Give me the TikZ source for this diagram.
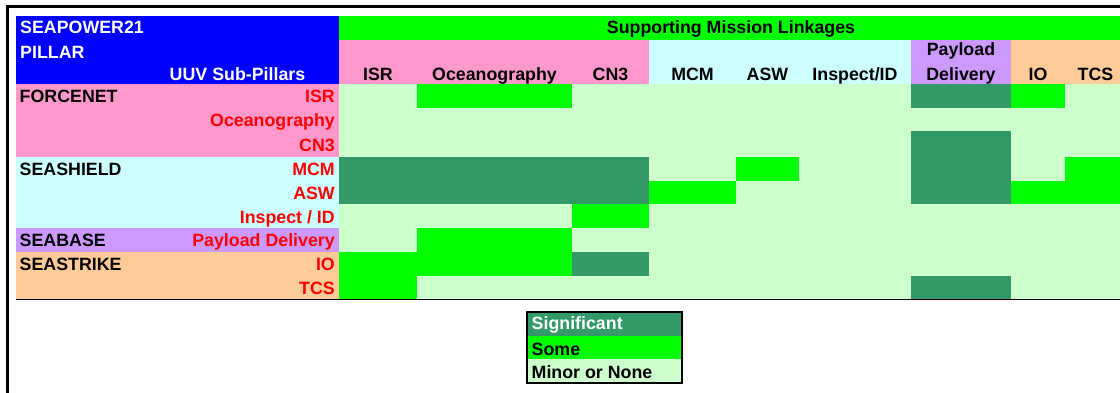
\documentclass[tikz,border=0pt]{standalone}
\usepackage{fontspec}
\setmainfont{Liberation Sans}
\definecolor{hblue}{HTML}{0000FF}
\definecolor{some}{HTML}{00FF00}
\definecolor{sig}{HTML}{339966}
\definecolor{minor}{HTML}{CCFFCC}
\definecolor{fpink}{HTML}{FF99CC}
\definecolor{fcyan}{HTML}{CCFFFF}
\definecolor{fpurple}{HTML}{CC99FF}
\definecolor{forange}{HTML}{FFCC99}
\definecolor{lred}{HTML}{FF0000}
\begin{document}
\begin{tikzpicture}[x=1pt,y=-1pt,
  txt/.style={inner sep=0pt, font=\fontsize{17.8}{20}\selectfont\bfseries},
  colhead/.style={txt, anchor=base, text=black},
  rowlab/.style={txt, anchor=base east, text=lred},
  pillarlab/.style={txt, anchor=base west, text=black},
  somecell/.style={fill=some},
  sigcell/.style={fill=sig},
]
\useasboundingbox (0,0) rectangle (1120,392);
\clip (0,0) rectangle (1120,392);
\fill[white] (0,0) rectangle (1120,392);
% outer frame
\draw[line width=3pt] (7.5,400) -- (7.5,6.5) -- (1130,6.5);
% header
\fill[hblue] (16,16) rectangle (339,84);
\fill[some] (339,16) rectangle (1130,39.5);
\fill[fpink] (339,39.5) rectangle (649,84);
\fill[fcyan] (649,39.5) rectangle (911,84);
\fill[fpurple] (911,39.5) rectangle (1011,84);
\fill[forange] (1011,39.5) rectangle (1130,84);
% left label column
\fill[fpink] (16,84) rectangle (339,156.5);
\fill[fcyan] (16,156.5) rectangle (339,228);
\fill[fpurple] (16,228) rectangle (339,251.5);
\fill[forange] (16,251.5) rectangle (339,299);
% grid background
\fill[minor] (339,84) rectangle (1130,299);
% row ISR
\fill[somecell] (417,84) rectangle (572,107.5);
\fill[sigcell] (911,84) rectangle (1011,107.5);
\fill[somecell] (1011,84) rectangle (1065,107.5);
% CN3..ASW payload
\fill[sigcell] (911,131) rectangle (1011,204);
% MCM & ASW rows
\fill[sigcell] (339,156.5) rectangle (649,204);
\fill[somecell] (736,156.5) rectangle (799,180.5);
\fill[somecell] (1065,156.5) rectangle (1130,180.5);
\fill[somecell] (649,180.5) rectangle (736,204);
\fill[somecell] (1011,180.5) rectangle (1130,204);
% Inspect
\fill[somecell] (572,204) rectangle (649,228);
% Payload
\fill[somecell] (417,228) rectangle (572,251.5);
% IO
\fill[somecell] (339,251.5) rectangle (572,275.5);
\fill[sigcell] (572,251.5) rectangle (649,275.5);
% TCS
\fill[somecell] (339,275.5) rectangle (417,299);
\fill[sigcell] (911,275.5) rectangle (1011,299);
% bottom rule
\draw[line width=1.3pt] (16,299.5) -- (1130,299.5);

% header texts
\node[txt, anchor=base, text=black] (sml) at (731,33.5) {Supporting Mission Linkages};
\node[txt, anchor=base west, text=white] (sp21) at (20,33.3) {SEAPOWER21};
\node[txt, anchor=base west, text=white] (pil) at (20,58) {PILLAR};
\node[txt, anchor=base, text=white] (uuv) at (237.5,80) {UUV Sub-Pillars};
\node[colhead] (hisr) at (378,80) {ISR};
\node[colhead] (hoce) at (494.5,80) {Oceanography};
\node[colhead] (hcn3) at (610.5,80) {CN3};
\node[colhead] (hmcm) at (692.5,80) {MCM};
\node[colhead] (hasw) at (767.5,80) {ASW};
\node[colhead] (hins) at (855,80) {Inspect/ID};
\node[colhead] (hpay1) at (961,55.7) {Payload};
\node[colhead] (hpay2) at (961,80) {Delivery};
\node[colhead] (hio) at (1038,80) {IO};
\node[colhead] (htcs) at (1095.5,80) {TCS};
% row labels
\node[rowlab] (risr) at (335,102.7) {ISR};
\node[rowlab] (roce) at (335,126.3) {Oceanography};
\node[rowlab] (rcn3) at (335,151.5) {CN3};
\node[rowlab] (rmcm) at (335,175.7) {MCM};
\node[rowlab] (rasw) at (335,199.3) {ASW};
\node[rowlab] (rins) at (335,223) {Inspect / ID};
\node[rowlab] (rpay) at (335,246.7) {Payload Delivery};
\node[rowlab] (rio) at (335,270.7) {IO};
\node[rowlab] (rtcs) at (335,294) {TCS};
% pillar labels
\node[pillarlab] (pfn) at (19.5,102.7) {FORCENET};
\node[pillarlab] (psh) at (19.5,175.7) {SEASHIELD};
\node[pillarlab] (pba) at (19.5,246.7) {SEABASE};
\node[pillarlab] (pst) at (19.5,270.7) {SEASTRIKE};
% legend
\fill[sig] (527,312) rectangle (682,335.5);
\fill[some] (527,335.5) rectangle (682,359);
\fill[minor] (527,359) rectangle (682,383);
\draw[line width=1.3pt] (527,312) rectangle (682,383);
\node[txt, anchor=base west, text=white] (lsig) at (531.5,329.5) {Significant};
\node[txt, anchor=base west, text=black] (lsome) at (531.5,355) {Some};
\node[txt, anchor=base west, text=black] (lmin) at (531.5,378.3) {Minor or None};
\end{tikzpicture}
\end{document}
